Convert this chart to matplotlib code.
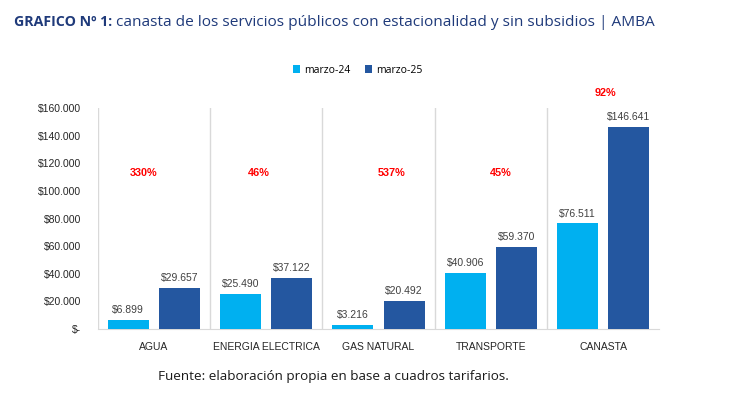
import numpy as np
import matplotlib
matplotlib.use("Agg")
import matplotlib.pyplot as plt

categories = ["AGUA", "ENERGIA ELECTRICA", "GAS NATURAL", "TRANSPORTE", "CANASTA"]
marzo_24 = [6899, 25490, 3216, 40906, 76511]
marzo_25 = [29657, 37122, 20492, 59370, 146641]
variacion = ["330%", "46%", "537%", "45%", "92%"]
variacion_y = [113000, 113000, 113000, 113000, 171000]
yticks = [0, 20000, 40000, 60000, 80000, 100000, 120000, 140000, 160000]

LIGHT = "#00B0F0"
DARK = "#2457A0"
NAVY = "#1F3A7A"


def money(v):
    if v == 0:
        return "$-"
    return "$" + format(int(v), ",").replace(",", ".")


fig = plt.figure(figsize=(7.3, 3.96), dpi=100)
ax = fig.add_axes([0.134, 0.169, 0.769, 0.558])

x = np.arange(len(categories))
w = 0.366
off = 0.228
b1 = ax.bar(x - off, marzo_24, w, color=LIGHT, label="marzo-24", zorder=3)
b2 = ax.bar(x + off, marzo_25, w, color=DARK, label="marzo-25", zorder=3)

for bars, vals in ((b1, marzo_24), (b2, marzo_25)):
    for r, v in zip(bars, vals):
        ax.text(r.get_x() + r.get_width() / 2, v + 3500, money(v),
                ha="center", va="bottom", fontsize=7.5, color="#404040",
                family="Liberation Sans")

# the red labels sit a bit off-centre in the original
shift = [-0.09, -0.07, 0.12, 0.09, 0.02]
for i, (t, yy) in enumerate(zip(variacion, variacion_y)):
    ax.text(i + shift[i], yy, t, ha="center", va="center", fontsize=7.8,
            color="#FF0000", fontweight="bold", family="Liberation Sans",
            clip_on=False)

ax.set_xlim(-0.5, len(categories) - 0.5)
ax.set_ylim(0, 160000)
ax.set_yticks(yticks)
ax.set_yticklabels([money(v) for v in yticks], fontsize=7.5,
                   family="Liberation Sans", color="#262626")
ax.set_xticks(x)
ax.set_xticklabels(categories, fontsize=7.5, family="Liberation Sans",
                   color="#262626")
ax.tick_params(axis="x", length=0, pad=9)
ax.tick_params(axis="y", length=0, pad=12)

for b in np.arange(len(categories)) - 0.5:
    ax.axvline(b, color="#D9D9D9", lw=1, zorder=1)
for s in ["top", "right", "left"]:
    ax.spines[s].set_visible(False)
ax.spines["bottom"].set_color("#D9D9D9")

fig.legend(handles=[b1, b2], loc="center", bbox_to_anchor=(0.49, 0.823),
           ncol=2, frameon=False, handlelength=0.7, handleheight=0.7,
           columnspacing=1.4, handletextpad=0.4,
           prop={"family": "Open Sans", "size": 7.5})

t1 = fig.text(0.019, 0.944, "GRAFICO Nº 1:", fontsize=10.2, fontweight="bold",
              color=NAVY, family="Open Sans", va="center")
fig.canvas.draw()
bb = t1.get_window_extent()
x2 = (bb.x1 + 4) / fig.bbox.width
fig.text(x2, 0.944,
         "canasta de los servicios públicos con estacionalidad y sin subsidios | AMBA",
         fontsize=11.1, color=NAVY, family="Open Sans", va="center")
fig.text(0.216, 0.05, "Fuente: elaboración propia en base a cuadros tarifarios.",
         fontsize=9.7, color="#1a1a1a", family="Open Sans", va="center")

fig.savefig("out.png", dpi=100, facecolor="white")
